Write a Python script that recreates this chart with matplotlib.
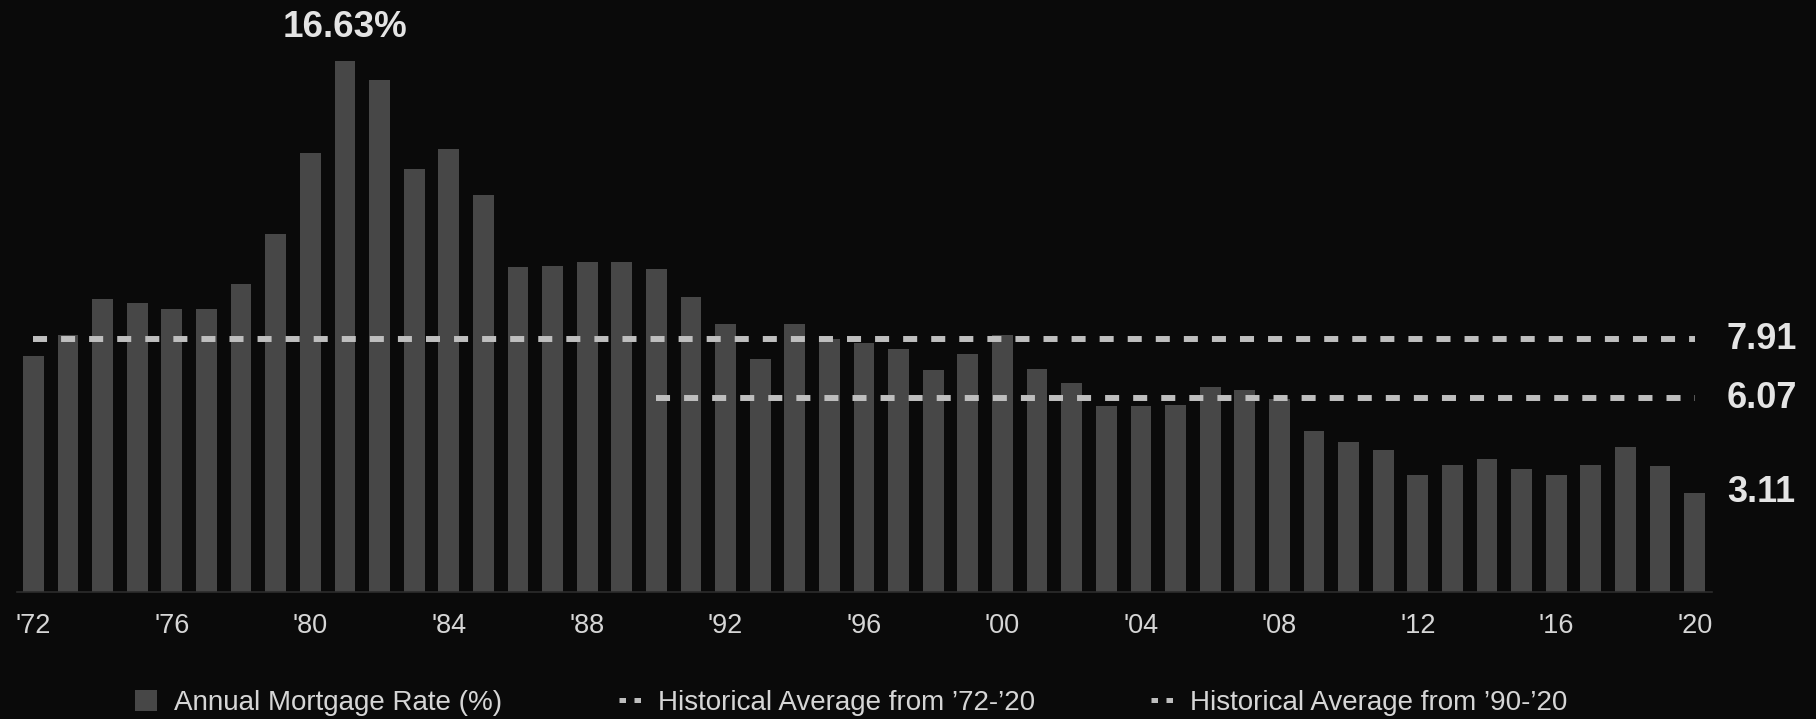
import matplotlib
matplotlib.use('Agg')
import matplotlib.pyplot as plt
from matplotlib.patches import Patch
from matplotlib.lines import Line2D


years = list(range(1972, 2021))
rates = [7.38, 8.04, 9.19, 9.05, 8.87, 8.85, 9.64, 11.20, 13.74, 16.63,
         16.04, 13.24, 13.88, 12.43, 10.19, 10.21, 10.34, 10.32, 10.13, 9.25,
         8.39, 7.31, 8.38, 7.93, 7.81, 7.60, 6.94, 7.44, 8.05, 6.97,
         6.54, 5.83, 5.84, 5.87, 6.41, 6.34, 6.03, 5.04, 4.69, 4.45,
         3.66, 3.98, 4.17, 3.85, 3.65, 3.99, 4.54, 3.94, 3.11]
tick_years = list(range(1972, 2021, 4))
tick_labels = ["'%02d" % (y % 100) for y in tick_years]

avg_all = 7.91      # '72-'20
avg_recent = 6.07   # '90-'20
avg_recent_start = 1990

bg = '#0a0a0a'
bar_color = '#474747'
dash_color = '#bebebe'
text_color = '#e4e4e4'

plt.rcParams['font.family'] = ['Liberation Sans', 'DejaVu Sans']

fig = plt.figure(figsize=(18.16, 7.19), dpi=100, facecolor=bg)
ax = fig.add_axes([17 / 1816, 127 / 719, 1695 / 1816, 18.3 * 31.93 / 719])
ax.set_facecolor(bg)

ax.bar(years, rates, width=0.6, color=bar_color, zorder=2)

dash = (2.35, 2.35)
ax.plot([years[0], years[-1]], [avg_all, avg_all], color=dash_color, lw=4.3,
        dashes=dash, dash_capstyle='butt', zorder=3)
ax.plot([avg_recent_start, years[-1]], [avg_recent, avg_recent], color=dash_color,
        lw=4.3, dashes=dash, dash_capstyle='butt', zorder=3)

ax.set_xlim(1971.526, 2020.5)
ax.set_ylim(0, 18.3)

# value labels
lab_x = 2020.93
for v in [avg_all, avg_recent, rates[-1]]:
    ax.text(lab_x, v, '%.2f' % v, color=text_color, fontsize=26, fontweight='bold',
            ha='left', va='center', clip_on=False)

peak = max(rates)
peak_year = years[rates.index(peak)]
ax.text(peak_year, peak + 1.06, '%.2f%%' % peak, color=text_color, fontsize=26.5,
        fontweight='bold', ha='center', va='center')

ax.set_xticks(tick_years)
ax.set_xticklabels(tick_labels, fontsize=19.5, color='#d6d6d6')
ax.tick_params(axis='x', length=0, pad=15)
ax.set_yticks([])
for s in ['top', 'right', 'left']:
    ax.spines[s].set_visible(False)
ax.spines['bottom'].set_color('#2c2c2c')
ax.spines['bottom'].set_linewidth(1.2)

handles = [
    Patch(facecolor=bar_color, edgecolor='none'),
    Line2D([0], [0], color=dash_color, lw=3.6, dashes=(1.3, 1.7), dash_capstyle='butt'),
    Line2D([0], [0], color=dash_color, lw=3.6, dashes=(1.3, 1.7), dash_capstyle='butt'),
]
labels = ['Annual Mortgage Rate (%)',
          'Historical Average from \u201972-\u201920',
          'Historical Average from \u201990-\u201920']
leg = fig.legend(handles, labels, loc='center left', bbox_to_anchor=(135 / 1816, 16 / 719),
                 ncol=3, frameon=False, fontsize=20, handlelength=0.8, handleheight=0.8,
                 handletextpad=0.6, columnspacing=4.2, borderpad=0, borderaxespad=0)
for t in leg.get_texts():
    t.set_color('#d6d6d6')

fig.savefig('out.png', dpi=100, facecolor=bg)
